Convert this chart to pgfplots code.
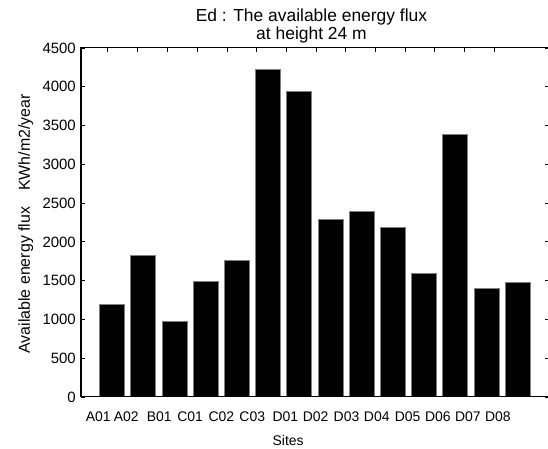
\documentclass[border=0pt]{standalone}
\usepackage{pgfplots}
\pgfplotsset{compat=1.18}
\usepackage{fontspec}
\setmainfont{Liberation Sans}
\begin{document}
\begin{tikzpicture}[x=1bp,y=1bp]
\begin{axis}[
  at={(0,0)}, anchor=south west, scale only axis,
  width=468bp, height=349bp,
  xmin=0, xmax=15, ymin=0, ymax=4500,
  axis line style={line width=1bp},
  tick align=inside, major tick length=4bp,
  ytick={0,500,...,4500}, ytick pos=both,
  every tick/.style={black, line width=0.8bp},
  xtick={0.55,1.45,2.51,3.50,4.50,5.49,6.55,7.52,8.51,9.48,10.47,11.44,12.40,13.36},
  xticklabels={A01,A02,B01,C01,C02,C03,D01,D02,D03,D04,D05,D06,D07,D08},
  xtick style={draw=none},
  xticklabel style={anchor=base, yshift=-25bp, font=\fontsize{14}{16}\selectfont},
  yticklabel style={anchor=east, inner sep=0pt, xshift=-5bp, font=\fontsize{15}{17}\selectfont},
  /pgf/number format/assume math mode=true,
  /pgf/number format/1000 sep={},
  xlabel={Sites},
  xlabel style={at={(axis description cs:0.4427,0)}, anchor=base, yshift=-48bp, font=\fontsize{14}{16}\selectfont},
  ylabel={Available energy flux\quad KWh/m2/year},
  ylabel style={at={(axis description cs:-0.109,0.496)}, anchor=base, font=\fontsize{16}{18}\selectfont},
  title={Ed : The available energy flux\\at height 24 m},
  title style={at={(axis description cs:0.4925,1)}, anchor=south, inner sep=0pt, yshift=-1bp, align=center, font=\fontsize{17.5}{13.5}\selectfont},
]
\addplot[ybar, bar width=0.8, fill=black, draw=gray, line width=1bp] coordinates {
(1,1195) (2,1830) (3,971) (4,1483) (5,1757) (6,4229) (7,3933)
(8,2292) (9,2395) (10,2185) (11,1589) (12,3387) (13,1404) (14,1481)};
\end{axis}
\begin{axis}[
  at={(0,0)}, anchor=south west, scale only axis,
  width=468bp, height=349bp,
  xmin=0, xmax=15, ymin=0, ymax=4500,
  axis line style={line width=1bp},
  tick align=inside, major tick length=4bp,
  every tick/.style={black, line width=0.8bp},
  xtick={0.86,1.81,2.77,3.72,4.68,5.62,6.59,7.53,8.49,9.44,10.39,11.34,12.29,13.24},
  xticklabels={}, xtick pos=right, ytick=\empty,
]
\end{axis}
\pgfresetboundingbox
\path[use as bounding box] (-81,-52) rectangle (467,397);
\end{tikzpicture}
\end{document}
